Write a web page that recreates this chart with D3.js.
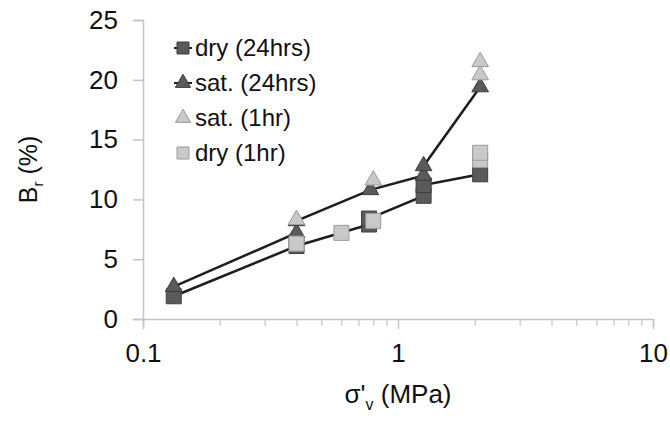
<!DOCTYPE html>
<html>
<head>
<meta charset="utf-8">
<script src="https://cdn.jsdelivr.net/npm/d3@7"></script>
<style>
  body { margin: 0; background: #fff; }
  svg { font-family: "Liberation Sans", Arial, sans-serif; }
</style>
</head>
<body>
<svg id="chart" width="670" height="425"></svg>
<script>
// data
const dry24X = [0.132, 0.4, 0.77, 0.77, 1.26, 1.26, 2.1]
const dry24Y = [1.9, 6.1, 7.9, 8.4, 10.3, 11.2, 12.1]
const sat24X = [0.132, 0.4, 0.4, 0.78, 1.26, 1.26, 2.1]
const sat24Y = [2.7, 7.2, 8.2, 10.8, 12.0, 12.8, 19.4]
const sat1X = [0.4, 0.8, 2.1, 2.1]
const sat1Y = [8.3, 11.6, 20.4, 21.5]
const dry1X = [0.4, 0.6, 0.8, 2.1, 2.1]
const dry1Y = [6.3, 7.2, 8.2, 13.3, 13.9]
const yTicks = [0, 5, 10, 15, 20, 25]
const xMajor = [0.1, 1, 10]
const legendLabels = ["dry (24hrs)", "sat. (24hrs)", "sat. (1hr)", "dry (1hr)"]

const svg = d3.select("#chart")
const margin = { top: 20, left: 143 }
const innerWidth = 510
const innerHeight = 299

const x = d3.scaleLog().domain([0.1, 10]).range([0, innerWidth])
const y = d3.scaleLinear().domain([0, 25]).range([innerHeight, 0])

const g = svg.append("g").attr("transform", `translate(${margin.left},${margin.top})`)

const axisColor = "#c4c4c4"
const darkFill = "#5a5a5a", darkStroke = "#3e3e3e"
const lightFill = "#c9c9c9", lightStroke = "#9a9a9a"

// y axis
const yAxis = g.append("g").call(d3.axisLeft(y).tickValues(yTicks).tickSize(10).tickPadding(15))
yAxis.select(".domain").attr("stroke", axisColor).attr("stroke-width", 1.5)
yAxis.selectAll("line").attr("stroke", axisColor).attr("stroke-width", 1.5)
yAxis.selectAll("text").attr("font-size", 26).attr("fill", "#111").attr("font-family", "Liberation Sans, Arial")

// x axis: minor ticks then major labels
const minor = []
for (let d = 0.1; d < 10; d *= 10) for (let k = 2; k <= 9; k++) minor.push(d * k)
const xAxis = g.append("g").attr("transform", `translate(0,${innerHeight})`)
  .call(d3.axisBottom(x).tickValues(minor).tickSize(7).tickFormat(""))
xAxis.select(".domain").attr("stroke", axisColor).attr("stroke-width", 1.5)
xAxis.selectAll("line").attr("stroke", axisColor).attr("stroke-width", 1.2)
const xAxisMajor = g.append("g").attr("transform", `translate(0,${innerHeight})`)
  .call(d3.axisBottom(x).tickValues(xMajor).tickSize(10).tickPadding(15).tickFormat(d3.format("")))
xAxisMajor.select(".domain").remove()
xAxisMajor.selectAll("line").attr("stroke", axisColor).attr("stroke-width", 1.5)
xAxisMajor.selectAll("text").attr("font-size", 26).attr("fill", "#111").attr("font-family", "Liberation Sans, Arial")

// axis titles with subscripts, built from separate text pieces
function subTitle(parent, parts, size, subSize, subDrop) {
  let pos = 0
  const nodes = parts.map(p => {
    const t = parent.append("text").attr("x", pos).attr("y", p.sub ? subDrop : 0)
      .attr("font-size", p.sub ? subSize : size).attr("fill", "#111").text(p.s)
    pos += t.node().getComputedTextLength()
    return t
  })
  nodes.forEach(t => t.attr("x", +t.attr("x") - pos / 2))
}
const yTitle = svg.append("g").attr("transform", `translate(37,${margin.top + innerHeight / 2}) rotate(-90)`)
subTitle(yTitle, [{ s: "B" }, { s: "r", sub: true }, { s: "\u00a0(%)" }], 25, 15, 6)
const xTitle = svg.append("g").attr("transform", `translate(${margin.left + x(1)},403)`)
subTitle(xTitle, [{ s: "σ'" }, { s: "v", sub: true }, { s: "\u00a0(MPa)" }], 26, 16, 7)

const zip = (xs, ys) => xs.map((v, i) => [v, ys[i]])
const line = d3.line().x(d => x(d[0])).y(d => y(d[1]))

g.append("path").datum(zip(dry24X, dry24Y)).attr("d", line)
  .attr("fill", "none").attr("stroke", "#1e1e1e").attr("stroke-width", 2.5)
g.append("path").datum(zip(sat24X, sat24Y)).attr("d", line)
  .attr("fill", "none").attr("stroke", "#1e1e1e").attr("stroke-width", 2.5)

const sq = d3.symbol().type(d3.symbolSquare).size(225)
const tri = d3.symbol().type(d3.symbolTriangle).size(120)

function markers(data, sym, fill, stroke) {
  g.append("g").selectAll("path").data(data).enter().append("path")
    .attr("transform", d => `translate(${x(d[0])},${y(d[1])})`)
    .attr("d", sym).attr("fill", fill).attr("stroke", stroke).attr("stroke-width", 1)
}
markers(zip(dry24X, dry24Y), sq, darkFill, darkStroke)
markers(zip(sat24X, sat24Y), tri, darkFill, darkStroke)
markers(zip(sat1X, sat1Y), tri, lightFill, lightStroke)
markers(zip(dry1X, dry1Y), sq, lightFill, lightStroke)

// legend
const legend = svg.append("g").attr("transform", "translate(183,48)")
const legSym = [
  { sym: d3.symbol().type(d3.symbolSquare).size(144), fill: darkFill, stroke: darkStroke, line: true },
  { sym: d3.symbol().type(d3.symbolTriangle).size(100), fill: darkFill, stroke: darkStroke, line: true },
  { sym: d3.symbol().type(d3.symbolTriangle).size(100), fill: lightFill, stroke: lightStroke, line: false },
  { sym: d3.symbol().type(d3.symbolSquare).size(144), fill: lightFill, stroke: lightStroke, line: false }
]
legendLabels.forEach((lab, i) => {
  const row = legend.append("g").attr("transform", `translate(0,${i * 35})`)
  if (legSym[i].line) row.append("line").attr("x1", -9).attr("x2", 9).attr("stroke", "#1e1e1e").attr("stroke-width", 2)
  row.append("path").attr("d", legSym[i].sym).attr("fill", legSym[i].fill).attr("stroke", legSym[i].stroke)
  row.append("text").attr("x", 12).attr("dy", "0.35em").attr("font-size", 24).attr("fill", "#111").text(lab)
})
</script>
</body>
</html>
